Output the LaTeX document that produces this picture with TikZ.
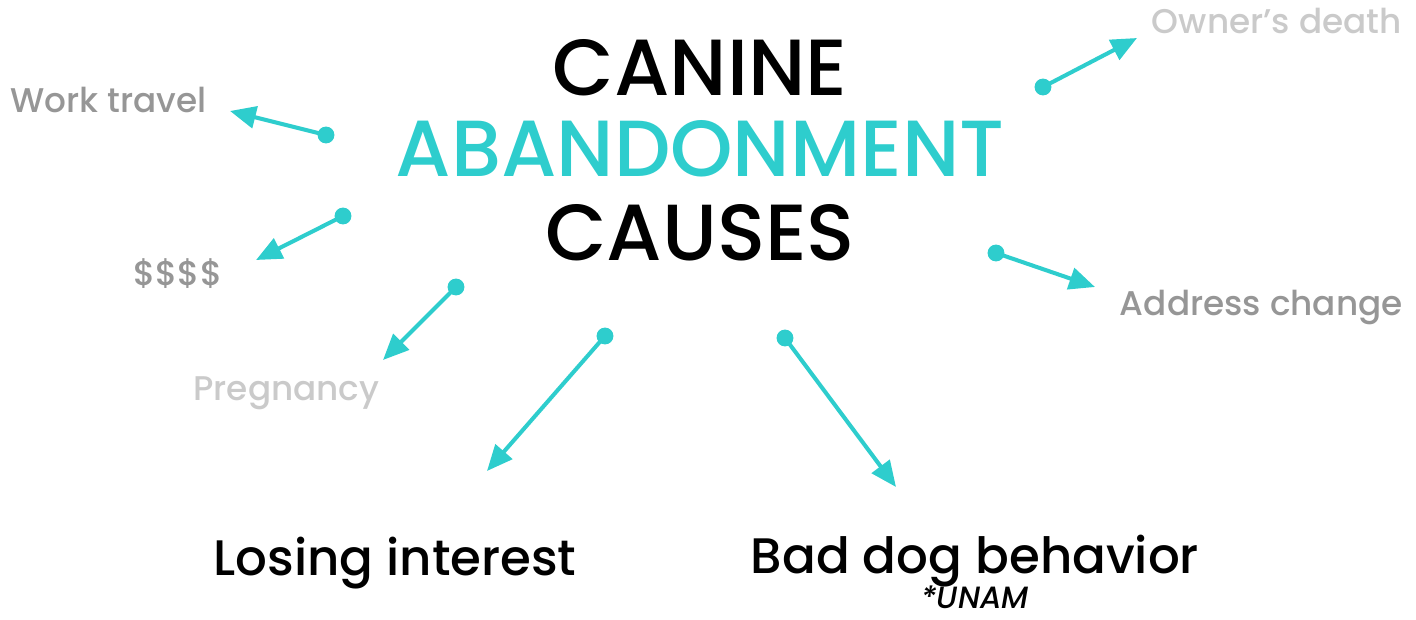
\documentclass[tikz,border=0pt]{standalone}
\usepackage{fontspec}
\setmainfont{Poppins Medium}
\usetikzlibrary{arrows.meta}
\definecolor{abteal}{RGB}{46,205,205}
\definecolor{abgray}{RGB}{150,150,150}
\definecolor{ablight}{RGB}{202,202,202}
\begin{document}
\begin{tikzpicture}[
  x=0.02cm, y=-0.02cm,
  title/.style={anchor=base, inner sep=0pt, font={\fontsize{45.3}{45}\selectfont}},
  cause/.style={inner sep=0pt, font={\fontsize{19.5}{20}\selectfont}},
  bigcause/.style={anchor=base, inner sep=0pt, font={\fontsize{28.4}{29}\selectfont}},
  dot/.style={circle, fill=abteal, minimum size=9.6pt, inner sep=0pt},
  causearrow/.style={draw=abteal, line width=2.3pt, -{Triangle[length=14.7pt, width=12.5pt]}}
]
\useasboundingbox (0,0) rectangle (1416,619);
% title
\node[title] (canine) at (700,95) {CANINE};
\node[title, text=abteal] (aband) at (700,176) {ABANDONMENT};
\node[title] (causes) at (700,260) {CAUSES};
% causes
\node[cause, anchor=base west, text=abgray] (work) at (10,112) {Work travel};
\node[cause, anchor=base west, text=abgray] (money) at (133,285) {\$\$\$\$};
\node[cause, anchor=base west, text=ablight] (preg) at (193,400) {Pregnancy};
\node[cause, anchor=base east, text=ablight] (death) at (1402,33) {Owner’s death};
\node[cause, anchor=base east, text=abgray] (addr) at (1403,315) {Address change};
\node[bigcause] (losing) at (395,575) {Losing interest};
\node[bigcause] (baddog) at (975,573) {Bad dog behavior};
\node[anchor=base, inner sep=0pt, text depth=0pt, font={\fontsize{17.5}{18}\selectfont\itshape}] (unam) at (975,608) {*UNAM};
% arrows
\node[dot] (d1) at (326,135) {};
\node[dot] (d2) at (343,216) {};
\node[dot] (d3) at (456,287) {};
\node[dot] (d4) at (605,336) {};
\node[dot] (d5) at (785,338) {};
\node[dot] (d6) at (996,253) {};
\node[dot] (d7) at (1043,87) {};
\coordinate (t1) at (230,111);
\coordinate (t2) at (256,260);
\coordinate (t3) at (383,360);
\coordinate (t4) at (487,471);
\coordinate (t5) at (896,487);
\coordinate (t6) at (1095,287);
\coordinate (t7) at (1137,38);
\draw[causearrow] (d1.center) -- (t1);
\draw[causearrow] (d2.center) -- (t2);
\draw[causearrow] (d3.center) -- (t3);
\draw[causearrow] (d4.center) -- (t4);
\draw[causearrow] (d5.center) -- (t5);
\draw[causearrow] (d6.center) -- (t6);
\draw[causearrow] (d7.center) -- (t7);
\end{tikzpicture}
\end{document}
